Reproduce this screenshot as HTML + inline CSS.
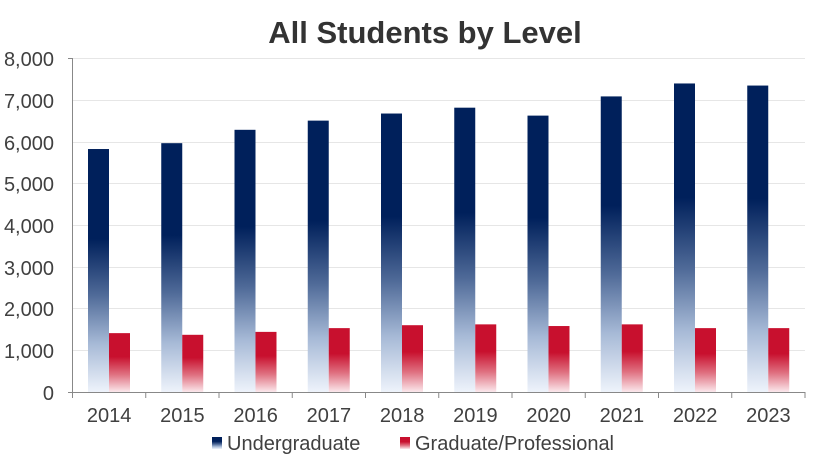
<!DOCTYPE html>
<html><head><style>
body{margin:0;background:#fff;}
svg{display:block;font-family:"Liberation Sans",sans-serif;}
</style></head><body>
<svg width="815" height="462" viewBox="0 0 815 462">
<defs>
<linearGradient id="nv" x1="0" y1="0" x2="0" y2="1">
<stop offset="0" stop-color="#00205b"/><stop offset="0.37" stop-color="#00205b"/>
<stop offset="0.6" stop-color="#4f6a98"/><stop offset="0.8" stop-color="#a6b9d6"/><stop offset="1" stop-color="#eef3fb"/>
</linearGradient>
<linearGradient id="rd" x1="0" y1="0" x2="0" y2="1">
<stop offset="0" stop-color="#c8102e"/><stop offset="0.4" stop-color="#c8102e"/>
<stop offset="0.7" stop-color="#df7080"/><stop offset="1" stop-color="#fbe8ec"/>
</linearGradient>
</defs>
<text x="425" y="43" text-anchor="middle" font-size="31" font-weight="bold" fill="#333">All Students by Level</text>
<g stroke="#e6e6e6" stroke-width="1">
<line x1="72" x2="805" y1="58.5" y2="58.5"/><line x1="72" x2="805" y1="100.5" y2="100.5"/>
<line x1="72" x2="805" y1="142.5" y2="142.5"/><line x1="72" x2="805" y1="183.5" y2="183.5"/>
<line x1="72" x2="805" y1="225.5" y2="225.5"/><line x1="72" x2="805" y1="267.5" y2="267.5"/>
<line x1="72" x2="805" y1="308.5" y2="308.5"/><line x1="72" x2="805" y1="350.5" y2="350.5"/>
</g>
<g font-size="20" fill="#404040" text-anchor="end">
<text x="54" y="66">8,000</text><text x="54" y="108">7,000</text><text x="54" y="150">6,000</text>
<text x="54" y="191">5,000</text><text x="54" y="233">4,000</text><text x="54" y="275">3,000</text>
<text x="54" y="316">2,000</text><text x="54" y="358">1,000</text><text x="54" y="400">0</text>
</g>
<g id="bars"></g>
<g stroke="#888" stroke-width="1">
<line x1="72.5" x2="72.5" y1="58" y2="392"/><line x1="68" x2="805" y1="392.5" y2="392.5"/>
<line x1="68" x2="72" y1="58.5" y2="58.5"/>
</g>
<g id="ticks" stroke="#888"></g>
<g id="labs" font-size="20" fill="#404040" text-anchor="middle"></g>
<rect x="212" y="437" width="10" height="12" fill="url(#nv)"/>
<text x="227" y="450" font-size="20" fill="#404040">Undergraduate</text>
<rect x="400" y="437" width="10" height="12" fill="url(#rd)"/>
<text x="415" y="450" font-size="20" fill="#404040">Graduate/Professional</text>
<script>
var u=[5820,5960,6280,6500,6670,6810,6620,7080,7390,7340],g=[1410,1370,1440,1530,1600,1620,1580,1620,1530,1530];
var ns="http://www.w3.org/2000/svg",b=document.getElementById('bars'),t=document.getElementById('ticks'),l=document.getElementById('labs');
function r(x,v,f){var e=document.createElementNS(ns,'rect'),h=v*0.04175;e.setAttribute('x',x);e.setAttribute('y',392-h);e.setAttribute('width',21);e.setAttribute('height',h);e.setAttribute('fill',f);b.appendChild(e);}
for(var i=0;i<10;i++){var x0=72.5+i*73.25;r(x0+15.5,u[i],'url(#nv)');r(x0+36.5,g[i],'url(#rd)');
var k=document.createElementNS(ns,'line');k.setAttribute('x1',x0+73.25);k.setAttribute('x2',x0+73.25);k.setAttribute('y1',392);k.setAttribute('y2',398);t.appendChild(k);
var s=document.createElementNS(ns,'text');s.setAttribute('x',x0+36.6);s.setAttribute('y',422);s.textContent=2014+i;l.appendChild(s);}
var k=document.createElementNS(ns,'line');k.setAttribute('x1',72.5);k.setAttribute('x2',72.5);k.setAttribute('y1',392);k.setAttribute('y2',398);t.appendChild(k);
</script>
</svg>
</body></html>
